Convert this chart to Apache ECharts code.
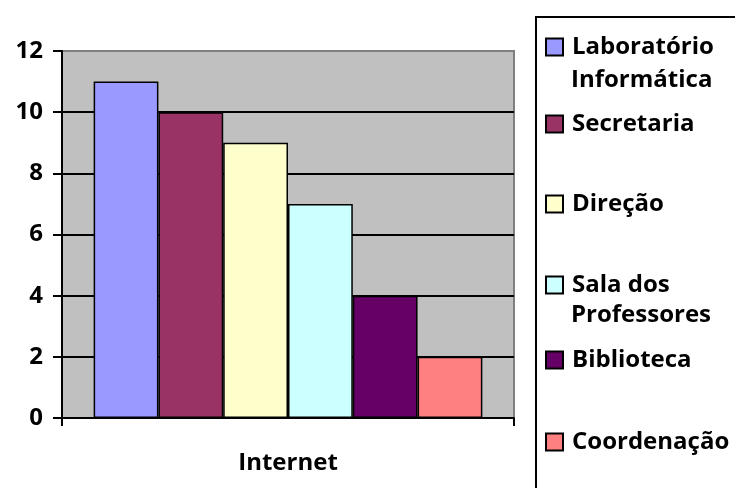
<!DOCTYPE html>
<html>
<head>
	<meta charset="utf-8" />
	<title>Internet</title>
	<style type="text/css">
	*{margin: 0;padding: 0;}
	#chart{width: 735px;height: 488px;background: #fff;}
	</style>
</head>
<body>
<div id="chart"></div>
<script src="https://cdn.jsdelivr.net/npm/echarts@6/dist/echarts.min.js"></script>
<script type="text/javascript">
	// dados
	var categorias = ['Internet'];
	var setores = ['Laboratório Informática', 'Secretaria', 'Direção', 'Sala dos Professores', 'Biblioteca', 'Coordenação'];
	var valores = [11, 10, 9, 7, 4, 2];
	var cores = ['#9999ff', '#993366', '#ffffcc', '#ccffff', '#660066', '#ff8080'];
	var yTicks = [0, 2, 4, 6, 8, 10, 12];

	// centro vertical de cada item da legenda (o Excel não espaça igual)
	var legendaY = [45, 122, 202, 283, 358, 440];

	var fonte = '"Open Sans"';
	var tam = 24;

	var series = setores.map(function(nome, i){
		return {
			name: nome,
			type: 'bar',
			data: [valores[i]],
			barGap: '0%',
			barCategoryGap: '14%',
			itemStyle: {color: cores[i], borderColor: '#000', borderWidth: 1.5}
		};
	});

	var legendas = setores.map(function(nome, i){
		return {
			data: [nome],
			left: 545,
			top: legendaY[i] - 12,
			padding: 0,
			itemWidth: 17,
			itemHeight: 17,
			itemGap: 0,
			selectedMode: false,
			icon: 'rect',
			itemStyle: {borderColor: '#000', borderWidth: 2},
			textStyle: {fontFamily: fonte, fontWeight: 'bold', fontSize: tam, color: '#000', lineHeight: 28, padding: [0, 0, 0, 4]},
			formatter: function(n){
				// segunda palavra vai para a linha de baixo (texto à parte)
				if (n == 'Laboratório Informática') return 'Laboratório';
				if (n == 'Sala dos Professores') return 'Sala dos';
				return n;
			}
		};
	});

	var option = {
		animation: false,
		grid: {
			left: 62, right: 221, top: 51, bottom: 70,
			show: true, backgroundColor: '#c0c0c0', borderColor: '#808080', borderWidth: 2
		},
		legend: legendas,
		xAxis: {
			type: 'category',
			data: categorias,
			axisLine: {lineStyle: {color: '#000', width: 2}},
			axisTick: {show: true, length: 8, lineStyle: {color: '#000', width: 2}},
			axisLabel: {fontFamily: fonte, fontWeight: 'bold', fontSize: tam, color: '#000', margin: 33}
		},
		yAxis: {
			type: 'value',
			min: 0, max: 12, interval: 2,
			axisLine: {show: true, lineStyle: {color: '#000', width: 2}},
			axisTick: {show: true, length: 9, lineStyle: {color: '#000', width: 2}},
			axisLabel: {fontFamily: fonte, fontWeight: 'bold', fontSize: tam, color: '#000', margin: 19,
				formatter: function(v){ return yTicks.indexOf(v) >= 0 ? String(v) : ''; }},
			splitLine: {show: true, lineStyle: {color: ['#000', '#000', '#000', '#000', '#000', '#000', '#808080'], width: 2}}
		},
		graphic: [
			{type: 'rect', shape: {x: 536, y: 17, width: 220, height: 490}, style: {fill: 'none', stroke: '#000', lineWidth: 2}, z: -1},
			{type: 'text', left: 571, top: legendaY[0] + 33 - 12, style: {text: 'Informática', font: 'bold ' + tam + 'px ' + fonte, fill: '#000', lineHeight: 28}},
			{type: 'text', left: 571, top: legendaY[3] + 30 - 12, style: {text: 'Professores', font: 'bold ' + tam + 'px ' + fonte, fill: '#000', lineHeight: 28}}
		],
		series: series
	};

	var chart = echarts.init(document.getElementById('chart'));
	chart.setOption(option);
</script>
</body>
</html>
